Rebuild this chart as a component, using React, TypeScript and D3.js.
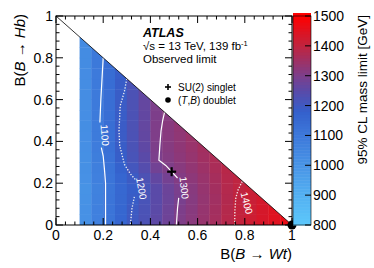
import * as d3 from "d3";

// bin lower edges (bin width 0.05)
const xBins = [0.1, 0.15, 0.2, 0.25, 0.3, 0.35, 0.4, 0.45, 0.5, 0.55, 0.6, 0.65, 0.7, 0.75, 0.8, 0.85, 0.9, 0.95];
const yBins = [0, 0.05, 0.1, 0.15, 0.2, 0.25, 0.3, 0.35, 0.4, 0.45, 0.5, 0.55, 0.6, 0.65, 0.7, 0.75, 0.8, 0.85];
const binSize = 0.05;

// observed mass limit [GeV], one row per yBin, columns follow xBins
const limitRows = [
  [1010, 1070, 1115, 1160, 1200, 1225, 1255, 1280, 1305, 1320, 1340, 1360, 1385, 1405, 1420, 1435, 1450, 1465],
  [1010, 1070, 1112, 1158, 1197, 1222, 1252, 1278, 1302, 1318, 1338, 1358, 1383, 1403, 1418, 1433, 1448],
  [1008, 1068, 1112, 1155, 1190, 1218, 1250, 1275, 1296, 1315, 1335, 1355, 1380, 1400, 1415, 1430],
  [1005, 1066, 1110, 1152, 1186, 1216, 1250, 1276, 1298, 1318, 1338, 1358, 1382, 1398, 1412],
  [1010, 1070, 1114, 1160, 1195, 1226, 1262, 1290, 1310, 1325, 1342, 1362, 1385, 1398],
  [1015, 1075, 1118, 1175, 1210, 1240, 1285, 1305, 1318, 1332, 1348, 1368, 1388],
  [1015, 1080, 1125, 1185, 1218, 1250, 1300, 1312, 1325, 1338, 1355, 1372],
  [1018, 1085, 1130, 1190, 1222, 1258, 1302, 1315, 1328, 1342, 1358],
  [1020, 1088, 1132, 1192, 1225, 1262, 1304, 1318, 1330, 1345],
  [1022, 1090, 1134, 1192, 1226, 1264, 1304, 1318, 1332],
  [1020, 1090, 1132, 1190, 1224, 1262, 1302, 1316],
  [1022, 1092, 1134, 1192, 1226, 1264, 1302],
  [1025, 1092, 1135, 1190, 1224, 1262],
  [1025, 1094, 1136, 1188, 1222],
  [1028, 1094, 1138, 1186],
  [1030, 1096, 1138],
  [1030, 1096],
  [1032],
];

// contour lines, null = gap for the label
const contour1100: ([number, number] | null)[] = [[0.21, 0], [0.21, 0.2], [0.205, 0.27], [0.2, 0.33], [0.192, 0.37], null, [0.186, 0.49], [0.19, 0.6], [0.195, 0.7], [0.2, 0.8]];
const contour1200: ([number, number] | null)[] = [[0.3, 0.7], [0.29, 0.64], [0.272, 0.57], [0.267, 0.45], [0.27, 0.38], [0.29, 0.29], [0.315, 0.245], [0.338, 0.215], null, [0.332, 0.135], [0.322, 0.08], [0.315, 0]];
const contour1300: ([number, number] | null)[] = [[0.46, 0.54], [0.452, 0.5], [0.445, 0.45], [0.44, 0.38], [0.436, 0.31], [0.465, 0.285], [0.49, 0.255], [0.515, 0.225], null, [0.52, 0.13], [0.515, 0.08], [0.51, 0]];
const contour1400: ([number, number] | null)[] = [[0.757, 0], [0.758, 0.07], [0.762, 0.13], [0.772, 0.17], [0.79, 0.21]];

const contours = [
  { level: 1100, pts: contour1100, dotted: false, lx: 0.207, ly: 0.43, angle: 86 },
  { level: 1200, pts: contour1200, dotted: true, lx: 0.362, ly: 0.175, angle: 80 },
  { level: 1300, pts: contour1300, dotted: false, lx: 0.543, ly: 0.178, angle: 84 },
  { level: 1400, pts: contour1400, dotted: true, lx: 0.808, ly: 0.105, angle: 76 },
];

const axisTicks = [0, 0.2, 0.4, 0.6, 0.8, 1];
const zTicks = [800, 900, 1000, 1100, 1200, 1300, 1400, 1500];
const paletteValues = [800, 900, 1000, 1100, 1180, 1250, 1300, 1400, 1500];
const paletteColors = ["#5cc8fb", "#52b0f2", "#4894e6", "#3c78da", "#3460cc", "#5a4aa8", "#7c3f8c", "#c0243f", "#ff0000"];

const singlet = { x: 0.49, y: 0.255 };
const doublet = { x: 1, y: 0 };

const font = "'Liberation Sans', Arial, Helvetica, sans-serif";

export default function App() {
  const x = d3.scaleLinear().domain([0, 1]).range([56, 292]);
  const y = d3.scaleLinear().domain([0, 1]).range([225, 16]);
  const z = d3.scaleLinear().domain([800, 1500]).range([225, 16]);
  const color = d3.scaleLinear<string>().domain(paletteValues).range(paletteColors).interpolate(d3.interpolateRgb).clamp(true);

  const line = d3.line<[number, number] | null>()
    .defined((d) => d !== null)
    .x((d) => x(d![0]))
    .y((d) => y(d![1]));

  const cells: { x0: number; y0: number; v: number }[] = [];
  limitRows.forEach((row, j) => {
    row.forEach((v, i) => cells.push({ x0: xBins[i], y0: yBins[j], v }));
  });

  const minor = d3.range(0, 1.0001, 0.04);
  const zGrad = d3.range(800, 1501, 10);

  return (
    <svg width={374} height={268} style={{ position: "absolute", left: 0, top: 0, background: "#fff" }} fontFamily={font}>
      <defs>
        <clipPath id="tri">
          <polygon points={`${x(0)},${y(0)} ${x(1)},${y(0)} ${x(0)},${y(1)}`} />
        </clipPath>
      </defs>

      {/* heat map */}
      <g clipPath="url(#tri)">
        {cells.map((c, k) => (
          <rect key={k} x={x(c.x0)} y={y(c.y0 + binSize)} width={x(c.x0 + binSize) - x(c.x0) + 0.4}
            height={y(c.y0) - y(c.y0 + binSize) + 0.4} fill={color(c.v)} />
        ))}
      </g>

      {/* contours */}
      {contours.map((c) => (
        <g key={c.level}>
          <path d={line(c.pts) || ""} fill="none" stroke={c.dotted ? "#f0f0f0" : "#fff"}
            strokeWidth={c.dotted ? 1.3 : 1.2} strokeDasharray={c.dotted ? "1.3 1.6" : undefined} />
          <text x={0} y={0} transform={`translate(${x(c.lx)},${y(c.ly)}) rotate(${c.angle})`}
            textAnchor="middle" dominantBaseline="central" fontSize={10} fill="#fff">{c.level}</text>
        </g>
      ))}

      {/* diagonal */}
      <line x1={x(0)} y1={y(1)} x2={x(1)} y2={y(0)} stroke="#000" strokeWidth={0.8} />

      {/* markers */}
      <g stroke="#000" strokeWidth={2.2}>
        <line x1={x(singlet.x) - 4.5} x2={x(singlet.x) + 4.5} y1={y(singlet.y)} y2={y(singlet.y)} />
        <line x1={x(singlet.x)} x2={x(singlet.x)} y1={y(singlet.y) - 4.5} y2={y(singlet.y) + 4.5} />
      </g>
      <circle cx={x(doublet.x)} cy={y(doublet.y)} r={4.5} fill="#000" />

      {/* frame */}
      <rect x={x(0)} y={y(1)} width={x(1) - x(0)} height={y(0) - y(1)} fill="none" stroke="#000" strokeWidth={1} />
      <g stroke="#000" strokeWidth={1}>
        {minor.map((t, k) => {
          const major = k % 5 === 0;
          const len = major ? 7 : 3.5;
          return (
            <g key={k}>
              <line x1={x(t)} x2={x(t)} y1={y(0)} y2={y(0) - len} />
              <line x1={x(t)} x2={x(t)} y1={y(1)} y2={y(1) + len} />
              <line x1={x(0)} x2={x(0) + len} y1={y(t)} y2={y(t)} />
              <line x1={x(1)} x2={x(1) - len} y1={y(t)} y2={y(t)} />
            </g>
          );
        })}
      </g>

      {/* tick labels */}
      <g fontSize={14} fill="#000">
        {axisTicks.map((t) => (
          <text key={"x" + t} x={x(t)} y={y(0) + 15} textAnchor="middle">{String(t)}</text>
        ))}
        {axisTicks.map((t) => (
          <text key={"y" + t} x={x(0) - 3} y={y(t)} textAnchor="end" dominantBaseline="central">{String(t)}</text>
        ))}
      </g>

      {/* axis titles */}
      <text x={292} y={259} textAnchor="end" fontSize={15}>
        B(<tspan fontStyle="italic">B</tspan> → <tspan fontStyle="italic">Wt</tspan>)
      </text>
      <text transform="translate(25,14) rotate(-90)" textAnchor="end" fontSize={15}>
        B(<tspan fontStyle="italic">B</tspan> → <tspan fontStyle="italic">Hb</tspan>)
      </text>

      {/* ATLAS label */}
      <text x={143} y={37} fontSize={12.5} fontWeight="bold" fontStyle="italic">ATLAS</text>
      <text x={143} y={50} fontSize={11.5}>√s = 13 TeV, 139 fb<tspan dy={-4} fontSize={7.5}>-1</tspan></text>
      <text x={143} y={63} fontSize={11.5}>Observed limit</text>

      {/* legend */}
      <g stroke="#000" strokeWidth={1.6}>
        <line x1={165} x2={171} y1={87} y2={87} />
        <line x1={168} x2={168} y1={84} y2={90} />
      </g>
      <circle cx={168} cy={100} r={2.8} fill="#000" />
      <text x={178} y={87} fontSize={10} dominantBaseline="central">SU(2) singlet</text>
      <text x={178} y={100} fontSize={10} dominantBaseline="central">
        (<tspan fontStyle="italic">T</tspan>,<tspan fontStyle="italic">B</tspan>) doublet
      </text>

      {/* colour bar */}
      {zGrad.map((v) => (
        <rect key={v} x={293} y={z(v + 10)} width={18} height={z(v) - z(v + 10) + 0.5} fill={color(v + 5)} />
      ))}
      <rect x={293} y={z(1500)} width={18} height={z(800) - z(1500)} fill="none" stroke="#000" strokeWidth={0.6} />
      <g stroke="#000" strokeWidth={1}>
        {zTicks.map((t) => (
          <line key={t} x1={311} x2={305} y1={z(t)} y2={z(t)} />
        ))}
      </g>
      <g fontSize={14}>
        {zTicks.map((t) => (
          <text key={t} x={313} y={z(t)} dominantBaseline="central">{t}</text>
        ))}
      </g>
      <text transform="translate(367,15) rotate(-90)" textAnchor="end" fontSize={13.5}>95% CL mass limit [GeV]</text>
    </svg>
  );
}
